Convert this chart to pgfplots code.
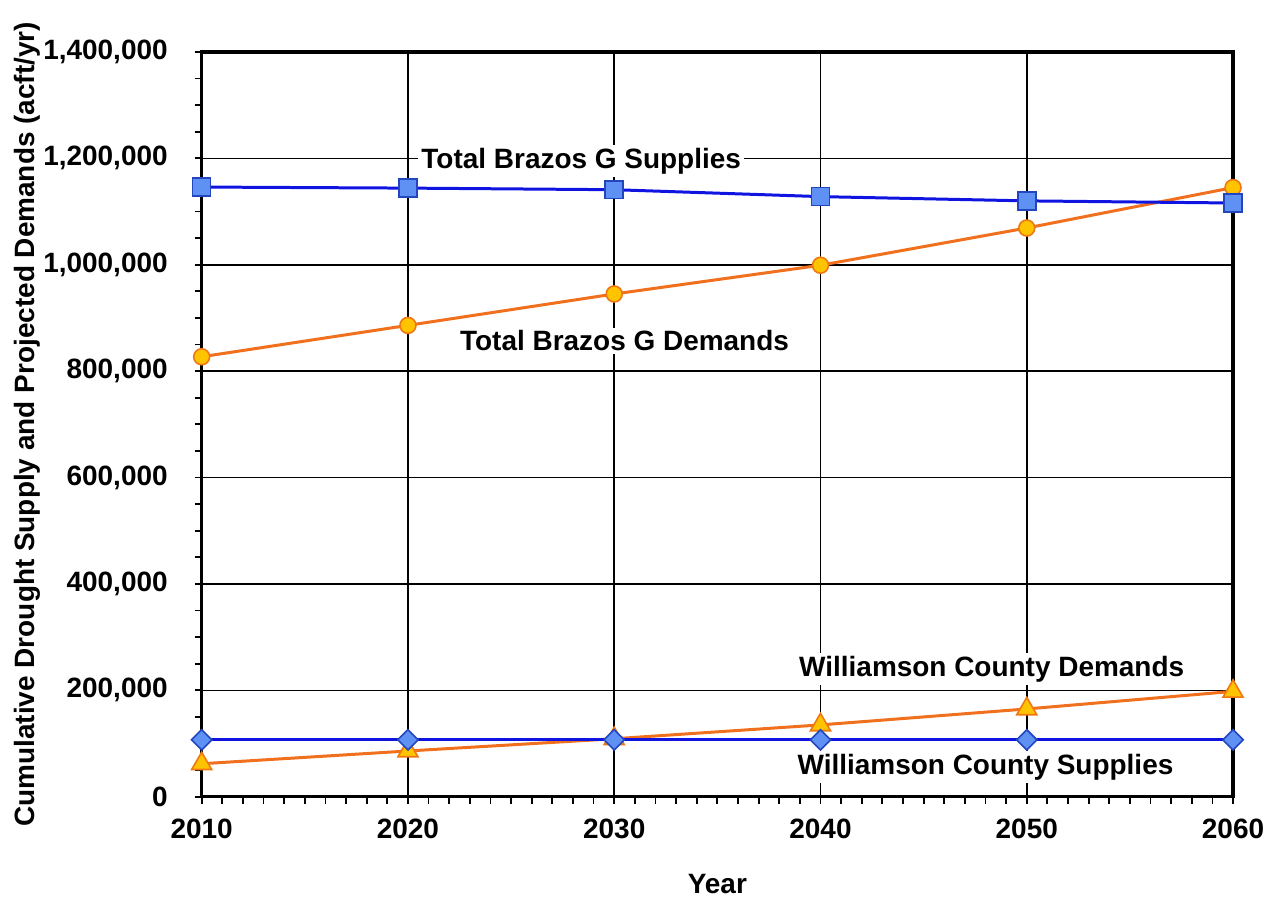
\documentclass[border=0pt]{standalone}
\usepackage{pgfplots}
\pgfplotsset{compat=1.18}
\usepackage{fontspec}
\setmainfont{Liberation Sans}
\definecolor{supline}{RGB}{15,20,225}
\definecolor{supfill}{RGB}{95,145,245}
\definecolor{supedge}{RGB}{35,70,190}
\definecolor{demline}{RGB}{240,112,30}
\definecolor{demfill}{RGB}{255,195,0}
\definecolor{demedge}{RGB}{238,120,20}
\begin{document}
\begin{tikzpicture}
\path[use as bounding box] (-101pt,-50.5pt) rectangle (531.5pt,399pt);
\begin{axis}[
  at={(0,0)}, anchor=south west,
  scale only axis,
  width=516.5pt, height=373pt,
  xmin=2010, xmax=2060, ymin=0, ymax=1400000,
  xtick={2010,2020,...,2060},
  ytick={0,200000,...,1400000},
  minor x tick num=9, minor y tick num=3,
  xtick pos=bottom, ytick pos=left,
  tick align=outside,
  major tick length=3.5pt, minor tick length=3.5pt,
  tick style={black, line width=0.9pt},
  grid=major,
  major grid style={black, line width=0.8pt},
  axis line style={black, line width=1.6pt},
  clip=false,
  scaled y ticks=false,
  /pgf/number format/assume math mode=true,
  xticklabel style={/pgf/number format/1000 sep={}, yshift=-4pt},
  yticklabel style={/pgf/number format/fixed, /pgf/number format/1000 sep={,}, xshift=-10pt},
  tick label style={font=\fontsize{14}{16}\selectfont\bfseries},
  label style={font=\fontsize{14}{16}\selectfont\bfseries},
  xlabel={Year},
  ylabel={Cumulative Drought Supply and Projected Demands (acft/yr)},
  xlabel style={at={(axis description cs:0.5,-0.1166)}, anchor=center},
  ylabel style={at={(axis description cs:-0.1694,0.5)}, anchor=center},
]
\addplot[demline, line width=1.5pt, mark=*, mark size=4pt,
  mark options={fill=demfill, draw=demedge, line width=0.8pt}]
  coordinates {(2010,827000) (2020,886000) (2030,945000) (2040,999000) (2050,1069000) (2060,1145000)};
\addplot[supline, line width=1.5pt, mark=square*, mark size=4.5pt,
  mark options={fill=supfill, draw=supedge, line width=0.8pt}]
  coordinates {(2010,1146000) (2020,1144000) (2030,1141000) (2040,1128000) (2050,1120000) (2060,1116000)};
\addplot[demline, line width=1.5pt, mark=triangle*, mark size=5.8pt,
  mark options={fill=demfill, draw=demedge, line width=0.8pt}]
  coordinates {(2010,62000) (2020,86000) (2030,109000) (2040,135000) (2050,165000) (2060,198000)};
\addplot[supline, line width=1.5pt, mark=square*, mark size=3.6pt,
  mark options={fill=supfill, draw=supedge, line width=0.8pt, rotate=45}]
  coordinates {(2010,107000) (2020,107000) (2030,107000) (2040,107000) (2050,107000) (2060,107000)};
\node[fill=white, inner sep=1.5pt, font=\fontsize{14}{16}\selectfont\bfseries] at (axis cs:2028.4,1195000) {Total Brazos G Supplies};
\node[fill=white, inner sep=1.5pt, font=\fontsize{14}{16}\selectfont\bfseries] at (axis cs:2030.5,857000) {Total Brazos G Demands};
\node[fill=white, inner sep=1.5pt, font=\fontsize{14}{16}\selectfont\bfseries] at (axis cs:2048.3,240000) {Williamson County Demands};
\node[fill=white, inner sep=1.5pt, font=\fontsize{14}{16}\selectfont\bfseries] at (axis cs:2048.0,56000) {Williamson County Supplies};
\end{axis}
\end{tikzpicture}
\end{document}
